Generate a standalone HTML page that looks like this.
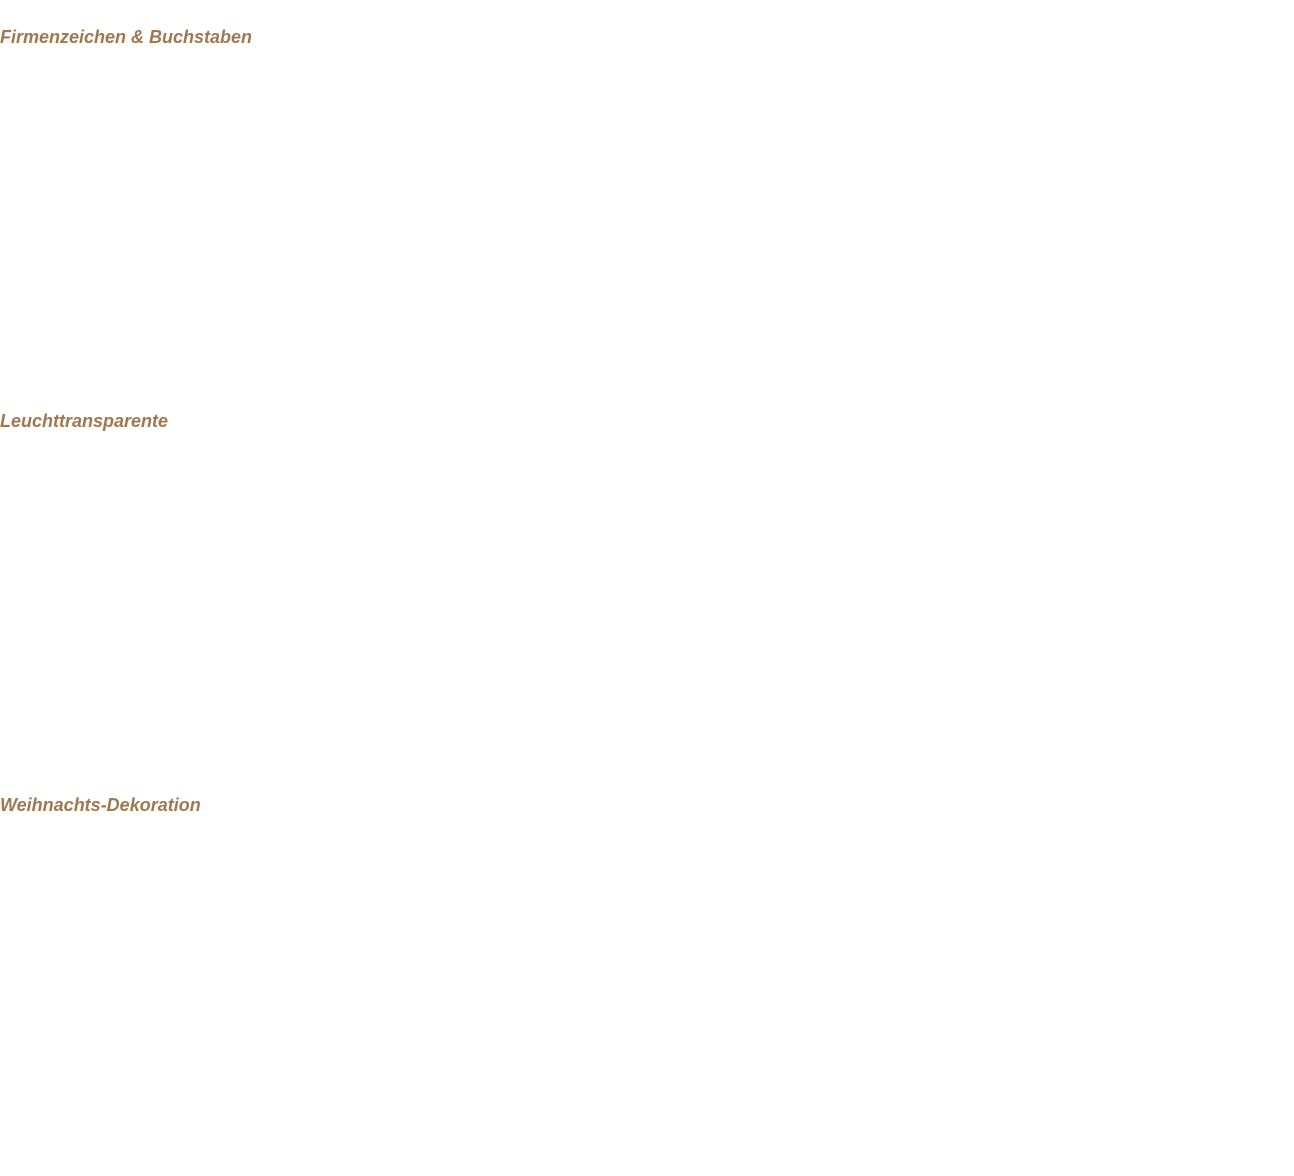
<!DOCTYPE html>
<html><head><meta charset="utf-8"><style>
html,body{margin:0;padding:0;background:#fff;width:1294px;height:1176px;overflow:hidden}
h2{position:absolute;left:0;margin:0;font-family:"Liberation Sans",sans-serif;font-weight:bold;font-style:italic;font-size:18px;line-height:22px;color:#a07850;letter-spacing:0px}
</style></head><body>
<h2 style="top:26px">Firmenzeichen &amp; Buchstaben</h2>
<h2 style="top:410px">Leuchttransparente</h2>
<h2 style="top:794px">Weihnachts-Dekoration</h2>
</body></html>
